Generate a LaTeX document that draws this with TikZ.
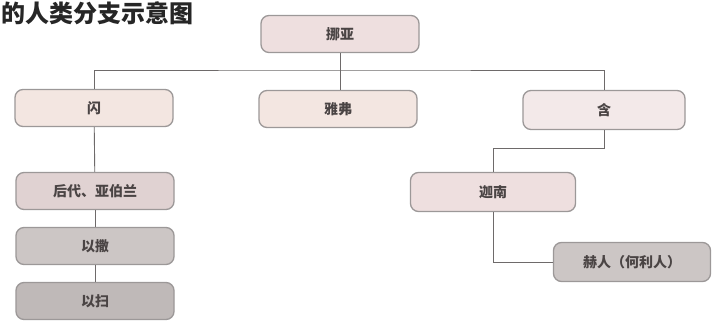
\documentclass[tikz,border=0pt]{standalone}
\usepackage{fontspec}
\setmainfont{Noto Sans CJK SC}
\usetikzlibrary{positioning,calc}
\definecolor{boxline}{HTML}{9C9898}
\definecolor{linkgray}{HTML}{6E6A6A}
\definecolor{textgray}{HTML}{4A4444}
\definecolor{pinklight}{HTML}{EEDFDF}
\definecolor{peachlight}{HTML}{F3E6E1}
\definecolor{pinkgray}{HTML}{E0D2D2}
\definecolor{graymid}{HTML}{CCC6C5}
\definecolor{graydark}{HTML}{BFB9B8}

\tikzset{
  kinbox/.style={draw=boxline,line width=1.3pt,rounded corners=8pt,
    minimum width=158pt,minimum height=37pt,text=textgray,
    font=\fontsize{14}{16}\selectfont\bfseries},
  link/.style={draw=linkgray,line width=0.9pt}
}

\begin{document}
\begin{tikzpicture}[x=1pt,y=-1pt]
    \useasboundingbox[fill=white] (0,0) rectangle (715,326);
    \node[anchor=north west,inner sep=0pt,font=\fontsize{24}{26}\selectfont\bfseries,text=black!85] (title) at (1,1) {的人类分支示意图};
    \node[kinbox,fill=pinklight] (nuoya) at (340,34) {挪亚};
    \node[kinbox,fill=peachlight] (shan) at (94,108) {闪};
    \node[kinbox,fill=peachlight] (yafu) at (338,109) {雅弗};
    \node[kinbox,fill=pinklight!70!white,minimum width=162pt,minimum height=39pt] (han) at (604,110) {含};
    \node[kinbox,fill=pinkgray] (houdai) at (95,191) {后代、亚伯兰};
    \node[kinbox,fill=graymid] (yisa) at (95,246) {以撒};
    \node[kinbox,fill=graydark] (yisao) at (95,301) {以扫};
    \node[kinbox,fill=pinklight,minimum width=165pt,minimum height=39pt] (jianan) at (493,192) {迦南};
    \node[kinbox,fill=graymid,minimum width=157pt,minimum height=39pt] (heren) at (632,262) {赫人（何利人）};
    % connectors
    \coordinate (fork) at (340,70);
    \coordinate (hanfork) at (604,148);
    \draw[link] (nuoya) -- (fork);
    \draw[link] (shan.north) |- (fork) -| (han.north);
    \draw[link] (fork) -- (fork |- yafu.north);
    \draw[link] (shan) -- (houdai);
    \draw[link] (houdai) -- (yisa);
    \draw[link] (yisa) -- (yisao);
    \draw[link] (han.south) -- (hanfork) -| (jianan.north);
    \draw[link] (jianan.south) |- (heren.west);
  \end{tikzpicture}
\end{document}
